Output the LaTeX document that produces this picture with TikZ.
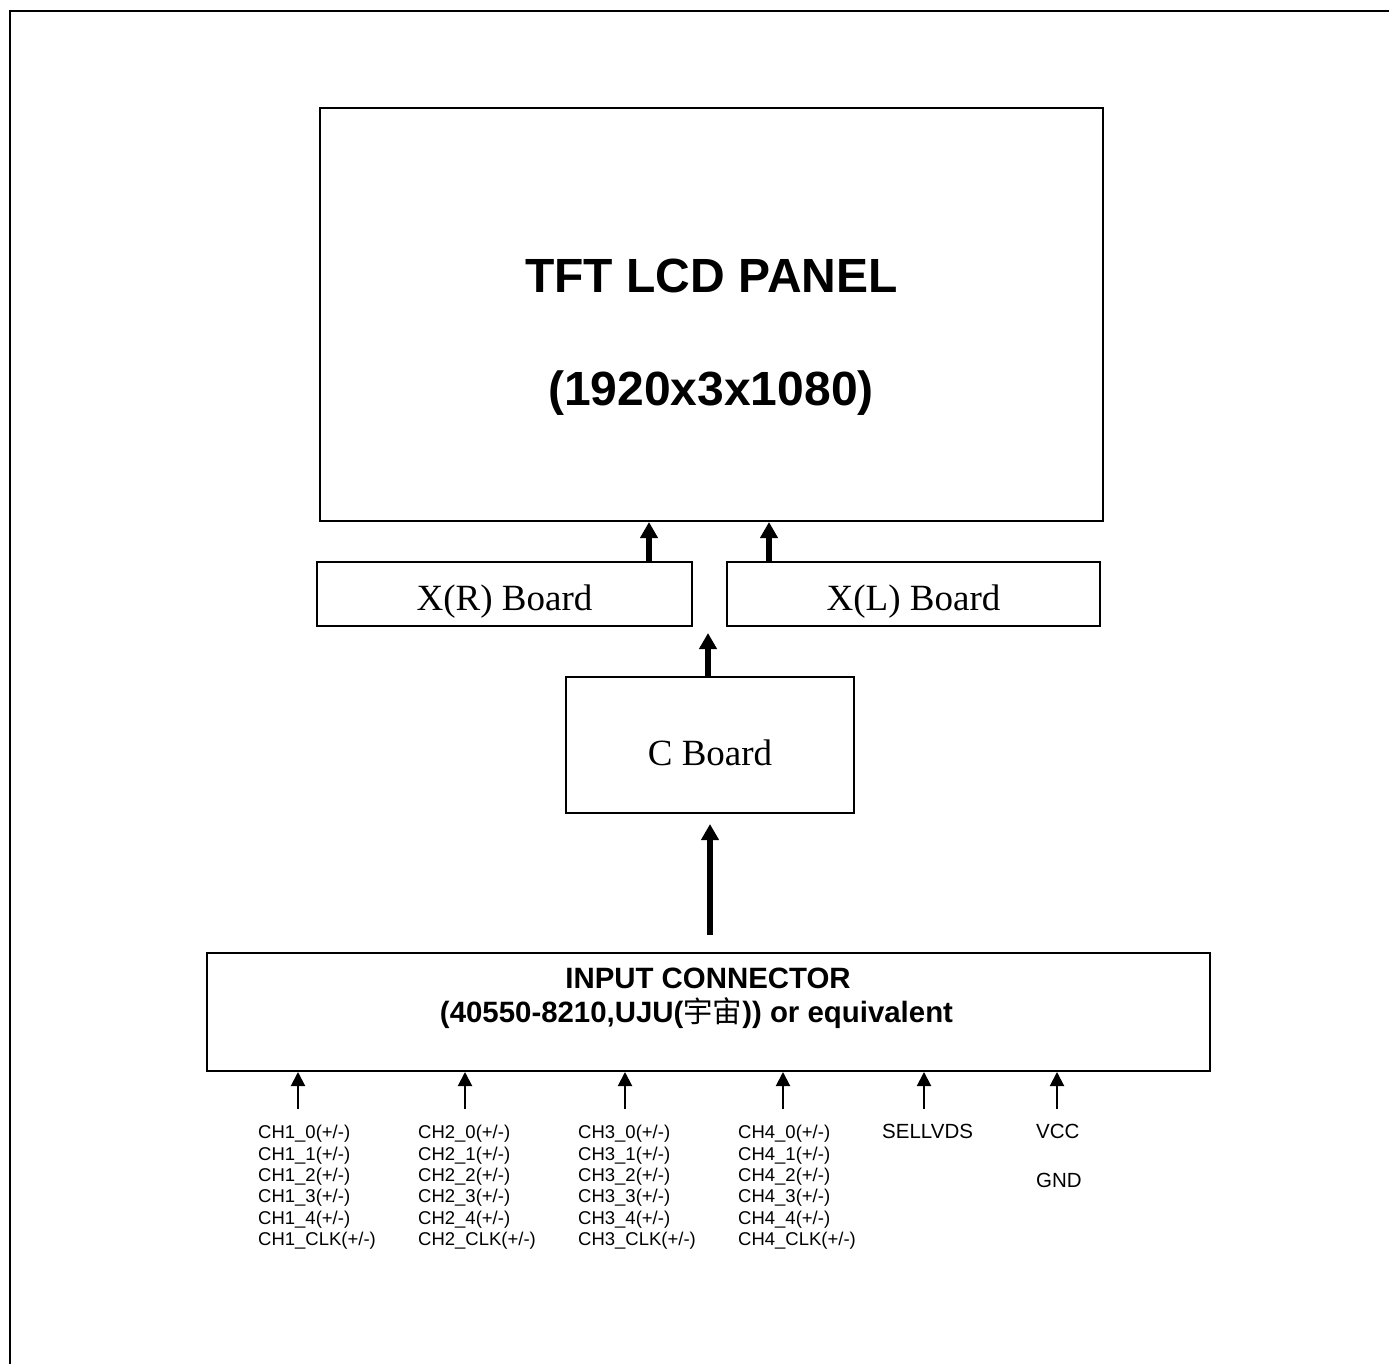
\documentclass[tikz,border=0pt]{standalone}
\usepackage{fontspec}
\setmainfont{Liberation Serif}
\setsansfont{Liberation Sans}
\newfontfamily\cjk{Noto Sans CJK SC}
\usetikzlibrary{arrows.meta,positioning}

\begin{document}
\begin{tikzpicture}[x=1pt,y=-1pt]

% Styles for elements
\tikzstyle{board} 	=	[rectangle, draw, line width=2pt, inner sep=0pt, text depth=0pt, font=\fontsize{37}{44}\selectfont]
\tikzstyle{tittel} 	=	[anchor=base, inner sep=0pt, font=\sffamily\bfseries\fontsize{48}{56}\selectfont]
\tikzstyle{kontakt} 	=	[anchor=base, inner sep=0pt, font=\sffamily\bfseries\fontsize{29.4}{34}\selectfont]
\tikzstyle{pil} 	=	[line width=6pt, -{Triangle[length=16pt,width=17pt]}] % thick arrow
\tikzstyle{inn} 	=	[line width=2pt, -{Triangle[length=14pt,width=14pt]}] % signal arrow
\tikzstyle{sig} 	=	[anchor=north west, inner sep=0pt, align=left, font=\sffamily\fontsize{18.5}{21.4}\selectfont]
\tikzstyle{stor} 	=	[sig, font=\sffamily\fontsize{20.5}{24}\selectfont]

	\useasboundingbox (0,0) rectangle (1389,1364);
	% Frame
	\draw[line width=2pt] (1389,11) -- (10,11) -- (10,1364);

	% Panel
	\node[board, minimum width=783pt, minimum height=413pt] (panel) at (711.5,314.5) {};
	\node[tittel] (panel_tekst) at (711.5,293) {TFT LCD PANEL};
	\node[tittel] (panel_opplosning) at (711,405) {(1920x3x1080)};

	% Boards
	\node[board, text height=32pt, minimum width=375pt, minimum height=64pt] (xr_board) at (504.5,594) {X(R) Board};
	\node[board, text height=32pt, minimum width=373pt, minimum height=64pt] (xl_board) at (913.5,594) {X(L) Board};
	\node[board, text height=40pt, minimum width=288pt, minimum height=136pt] (c_board) at (710,745) {C Board};

	\coordinate (xr_pil) at (649,0);
	\coordinate (xl_pil) at (769,0);
	\draw[pil] (xr_board.north -| xr_pil) -- (panel.south -| xr_pil); % Arrow up
	\draw[pil] (xl_board.north -| xl_pil) -- (panel.south -| xl_pil); % Arrow up
	\coordinate (c_topp) at (708,633);
	\draw[pil] (c_board.north -| c_topp) -- (c_topp); % Arrow up

	% Input connector
	\node[board, minimum width=1003pt, minimum height=118pt] (kontakt) at (708.5,1012) {};
	\node[kontakt] (kontakt_tekst) at (708,988) {INPUT CONNECTOR};
	\node[kontakt] (kontakt_type) at (696.5,1022) {(40550-8210,UJU({\cjk\mdseries 宇宙})) or equivalent};

	\coordinate (inn_hale) at (710,935);
	\coordinate (inn_spiss) at (710,824);
	\draw[pil] (inn_hale) -- (inn_spiss); % Arrow to C board

	% Signal arrows
	\foreach \x [count=\i] in {298,465,625,783,924,1057} {
		\coordinate (s\i) at (\x,1109);
		\draw[inn] (s\i) -- (s\i |- kontakt.south);
	}

	% Signal names
	\foreach \n/\x in {1/258,2/418,3/578,4/738}
		\node[sig] (ch\n) at (\x,1125) {CH\n\_0(+/-)\\CH\n\_1(+/-)\\CH\n\_2(+/-)\\CH\n\_3(+/-)\\CH\n\_4(+/-)\\CH\n\_CLK(+/-)};
	\node[stor] (sellvds) at (882,1124) {SELLVDS};
	\node[stor] (vcc) at (1036,1124) {VCC};
	\node[stor] (gnd) at (1036,1173) {GND};

\end{tikzpicture}
\end{document}
